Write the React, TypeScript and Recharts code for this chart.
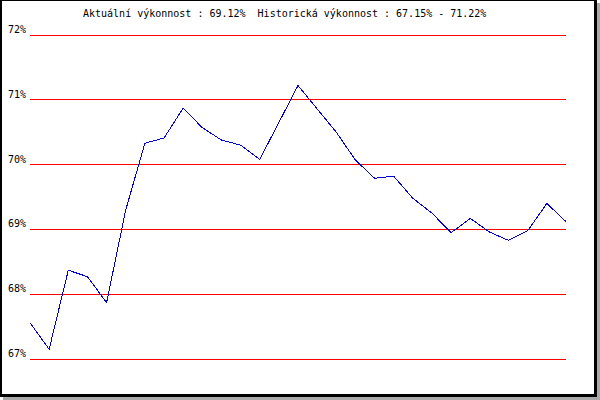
import { LineChart, Line, XAxis, YAxis, CartesianGrid } from "recharts";

// one sample per period, oldest first
const periods = Array.from({ length: 29 }, (_, i) => `P${i + 1}`);
const performance = [
  67.56, 67.15, 68.37, 68.27, 67.87, 69.3, 70.33, 70.41, 70.87, 70.57,
  70.38, 70.3, 70.08, 70.65, 71.22, 70.86, 70.5, 70.07, 69.79, 69.82,
  69.48, 69.25, 68.95, 69.17, 68.96, 68.83, 68.98, 69.4, 69.12,
];
const yTicks = [67, 68, 69, 70, 71, 72];
const title =
  "Aktuální výkonnost : 69.12%  Historická výkonnost : 67.15% - 71.22%";

const mono = "'DejaVu Sans Mono', monospace";

const data = periods.map((p, i) => ({ period: p, value: performance[i] }));

function PercentTick(props: any) {
  const { y, payload } = props;
  return (
    <text x={26} y={y - 2} textAnchor="end" fontFamily={mono} fontSize={10} fill="#000">
      {payload.value}%
    </text>
  );
}

export default function App() {
  return (
    <div style={{ position: "absolute", left: 0, top: 0, width: 600, height: 400, background: "#fff" }}>
      <div
        style={{
          position: "absolute",
          left: 0,
          top: 0,
          width: 592,
          height: 393,
          borderTop: "1px solid #000",
          borderLeft: "2px solid #000",
          borderRight: "3px solid #000",
          borderBottom: "3px solid #000",
          boxShadow: "3px 3px 0 #aaa",
          background: "#fff",
        }}
      />
      <div
        style={{
          position: "absolute",
          left: 83,
          top: 8,
          fontFamily: mono,
          fontSize: 10,
          whiteSpace: "pre",
          color: "#000",
        }}
      >
        {title}
      </div>
      <div style={{ position: "absolute", left: 0, top: 0 }}>
        <LineChart width={600} height={400} data={data} margin={{ top: 35, right: 34, bottom: 41, left: 0 }}>
          <CartesianGrid vertical={false} stroke="#ff0000" strokeWidth={1} shapeRendering="crispEdges" />
          <XAxis dataKey="period" hide />
          <YAxis
            domain={[67, 72]}
            ticks={yTicks}
            width={30}
            axisLine={false}
            tickLine={false}
            tick={<PercentTick />}
          />
          <Line
            type="linear"
            dataKey="value"
            stroke="#0000d0"
            strokeWidth={1}
            dot={false}
            shapeRendering="crispEdges"
            isAnimationActive={false}
          />
        </LineChart>
      </div>
    </div>
  );
}
